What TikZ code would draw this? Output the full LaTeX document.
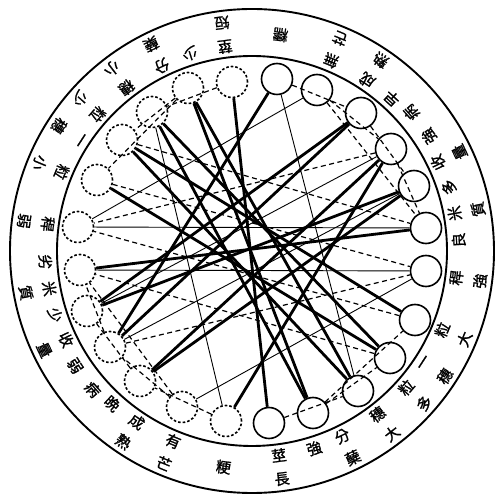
\documentclass[tikz,border=0pt]{standalone}
\usepackage{fontspec}
\newfontfamily\cjk{Noto Sans CJK TC}[FakeBold=1.3]
\usetikzlibrary{calc}
\tikzset{
  rim/.style={line width=1.9pt},
  traitS/.style={circle,draw,line width=1.6pt,minimum size=31pt,inner sep=0pt},
  traitD/.style={circle,draw,line width=1.6pt,dash pattern=on 2.6pt off 2pt,minimum size=31pt,inner sep=0pt},
  linkT/.style={line width=2.8pt},
  linkN/.style={line width=0.9pt},
  linkD/.style={line width=1.2pt,dash pattern=on 5pt off 3.5pt},
  glyph/.style={font=\cjk\fontsize{15}{15}\selectfont,inner sep=0pt},
}
% one character of a ring label: #1 = angle, #2 = radius, #3 = character
\newcommand{\rchar}[3]{\node[glyph,rotate=#1+90] at ($(O)+(#1:#2)$) {#3};}
\begin{document}
\begin{tikzpicture}[x=1pt,y=1pt]
\useasboundingbox (0,0) rectangle (497,498);
\coordinate (O) at (252,247);
% ---- the two rims
\draw[rim] (O) circle (242);
\draw[rim] (O) circle (195);
% ---- trait circles: solid on the right, dashed on the left
\foreach \N/\X/\Y in {0/426/270,1/414/312,2/391/349,3/361/385,4/317/408,5/277/419,
  18/269/75,19/313/85,20/358/107,21/390/140,22/415/178,23/426/227}
  \node[traitS] (t\N) at (\X,\Y) {};
\foreach \N/\X/\Y in {6/232/416,7/188/410,8/152/386,9/122/358,10/97/318,11/78/271,
  12/80/228,13/87/187,14/110/151,15/140/117,16/182/91,17/226/77}
  \node[traitD] (t\N) at (\X,\Y) {};
% ---- links: thick, thin, dashed
\foreach \A/\B in {0/12,1/13,7/19,6/18,7/20,19/8,8/21,20/9,10/21,22/9,3/13,15/1,2/15,14/3,5/14,17/2}
  \draw[linkT] (t\A) -- (t\B);
\foreach \A/\B in {11/0,23/12,14/1,2/13,11/4,23/16,5/20,17/8}
  \draw[linkN] (t\A) -- (t\B);
\foreach \A/\B in {5/3,4/2,3/1,2/0,17/15,16/14,15/13,14/12,18/20,19/21,6/8,7/9,
  9/0,21/12,10/23,22/11,4/0,16/12,2/11,14/23,19/22,7/10}
  \draw[linkD] (t\A) -- (t\B);
% ---- ring labels
\rchar{10.5}{206}{米}\rchar{10.5}{230}{質}\rchar{3}{207}{良}
\rchar{25.5}{206}{收}\rchar{25.5}{230}{量}\rchar{18}{207}{多}
\rchar{41}{211}{病}\rchar{33}{211}{強}
\rchar{56}{206}{成}\rchar{56}{230}{熟}\rchar{47.5}{207}{早}
\rchar{67.5}{206}{無}\rchar{67.5}{230}{芒}
\rchar{82.5}{218}{糯}
\rchar{97.5}{206}{莖}\rchar{97.5}{230}{短}
\rchar{116}{206}{分}\rchar{116}{230}{蘖}\rchar{107.5}{207}{少}
\rchar{127.5}{206}{穗}\rchar{127.5}{230}{小}
\rchar{147}{206}{一}\rchar{147}{230}{穗}\rchar{138.5}{206}{粒}\rchar{138.5}{230}{少}
\rchar{157.5}{206}{粒}\rchar{157.5}{230}{小}
\rchar{172.5}{206}{稈}\rchar{172.5}{230}{弱}
\rchar{190.5}{206}{米}\rchar{190.5}{230}{質}\rchar{183}{207}{劣}
\rchar{205.5}{206}{收}\rchar{205.5}{230}{量}\rchar{198}{207}{少}
\rchar{221}{211}{病}\rchar{213}{211}{弱}
\rchar{236}{206}{成}\rchar{236}{230}{熟}\rchar{227.5}{207}{晩}
\rchar{247.5}{206}{有}\rchar{247.5}{230}{芒}
\rchar{262.5}{218}{粳}
\rchar{277.5}{206}{莖}\rchar{277.5}{230}{長}
\rchar{296}{206}{分}\rchar{296}{230}{蘖}\rchar{287.5}{207}{強}
\rchar{307.5}{206}{穗}\rchar{307.5}{230}{大}
\rchar{327}{206}{一}\rchar{327}{230}{穗}\rchar{318.5}{206}{粒}\rchar{318.5}{230}{多}
\rchar{337.5}{206}{粒}\rchar{337.5}{230}{大}
\rchar{352.5}{206}{稈}\rchar{352.5}{230}{強}
\end{tikzpicture}
\end{document}
